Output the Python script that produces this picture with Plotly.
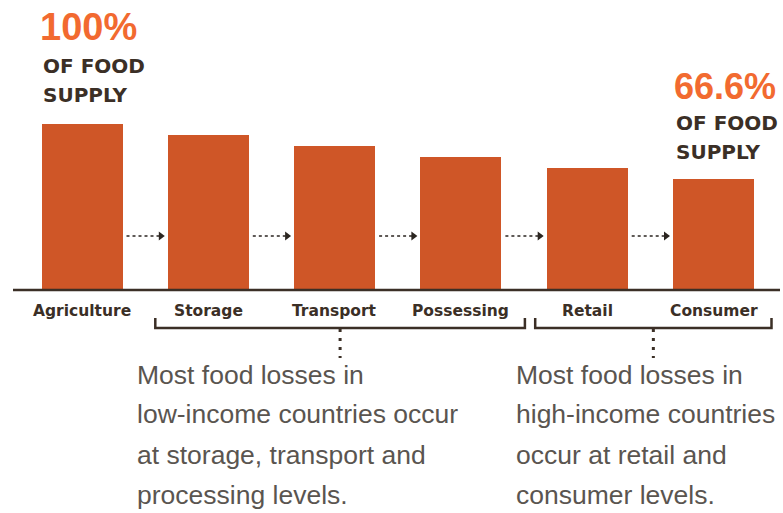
import plotly.graph_objects as go

# ---- data ----
stages = ["Agriculture", "Storage", "Transport", "Possessing", "Retail", "Consumer"]
food_supply = [100, 93.3, 86.6, 80, 73.3, 66.6]
start_label = "100%"
end_label = "66.6%"
sub_label = ["OF FOOD", "SUPPLY"]
low_income_note = ["Most food losses in", "low-income countries occur",
                   "at storage, transport and", "processing levels."]
high_income_note = ["Most food losses in", "high-income countries",
                    "occur at retail and", "consumer levels."]

# ---- geometry helpers (pixel -> data) ----
W, H = 783, 513
X0, DX = 82.0, 126.3       # pixel of category 0, pixels per category
Y0, PPU = 290.0, 1.66      # baseline pixel, pixels per unit


def xd(px):
    return (px - X0) / DX


def yd(py):
    return (Y0 - py) / PPU


BAR = "#cf5627"
ORANGE = "#f26a30"
DARK = "#3b2f26"
GRAY = "#5a5550"
bar_w = 81 / DX
xs = list(range(len(stages)))

fig = go.Figure()
fig.add_trace(go.Bar(x=xs, y=food_supply, width=bar_w, marker=dict(color=BAR, line=dict(width=0)),
                     showlegend=False, hoverinfo="skip"))

# dashed arrows between bars
ay = yd(236)
for i in range(len(stages) - 1):
    x_start = i + bar_w / 2 + 4 / DX
    x_end = i + 1 - bar_w / 2 - 4 / DX
    fig.add_trace(go.Scatter(x=[x_start, x_end - 4 / DX], y=[ay, ay], mode="lines",
                             line=dict(color="#2b2520", width=1.5, dash="3px,3px"),
                             showlegend=False, hoverinfo="skip"))
    fig.add_trace(go.Scatter(x=[x_end - 3 / DX], y=[ay], mode="markers",
                             marker=dict(symbol="triangle-right", size=8, color="#2b2520"),
                             showlegend=False, hoverinfo="skip"))

shapes = []
# baseline
shapes.append(dict(type="line", xref="x", yref="y", x0=xd(13), x1=xd(780), y0=0, y1=0,
                   line=dict(color=DARK, width=2.5)))


def bracket(first, last, left_off, right_off):
    xl = first + left_off / DX
    xr = last + right_off / DX
    yb, yt = yd(328), yd(318)
    shapes.append(dict(type="path", xref="x", yref="y",
                       path=f"M {xl},{yt} L {xl},{yb} L {xr},{yb} L {xr},{yt}",
                       line=dict(color=DARK, width=2.5)))
    xm = (xl + xr) / 2
    shapes.append(dict(type="line", xref="x", yref="y", x0=xm, x1=xm, y0=yd(329), y1=yd(358),
                       line=dict(color=DARK, width=3, dash="3px,6px")))


bracket(1, 3, -53, 64)
bracket(4, 5, -52, 58)

annotations = []
# category labels
for i, s in enumerate(stages):
    annotations.append(dict(x=i, y=yd(311), xref="x", yref="y", text=s, showarrow=False,
                            xanchor="center", yanchor="middle",
                            font=dict(family="DejaVu Sans", size=15.5, color=DARK, weight="bold")))

# headline numbers
annotations.append(dict(x=xd(38), y=yd(27), xref="x", yref="y", text=start_label, showarrow=False,
                        xanchor="left", yanchor="middle",
                        font=dict(family="Liberation Sans", size=38, color=ORANGE, weight="bold")))
annotations.append(dict(x=xd(672), y=yd(86), xref="x", yref="y", text=end_label, showarrow=False,
                        xanchor="left", yanchor="middle",
                        font=dict(family="Liberation Sans", size=36, color=ORANGE, weight="bold")))
for j, t in enumerate(sub_label):
    annotations.append(dict(x=xd(41), y=yd(66 + 29 * j), xref="x", yref="y", text=t, showarrow=False,
                            xanchor="left", yanchor="middle",
                            font=dict(family="DejaVu Sans", size=20, color=DARK, weight="bold")))
    annotations.append(dict(x=xd(674), y=yd(123 + 29 * j), xref="x", yref="y", text=t, showarrow=False,
                            xanchor="left", yanchor="middle",
                            font=dict(family="DejaVu Sans", size=20, color=DARK, weight="bold")))

# notes
line_y = [375, 414, 455, 495]
for j, t in enumerate(low_income_note):
    annotations.append(dict(x=xd(135), y=yd(line_y[j]), xref="x", yref="y", text=t, showarrow=False,
                            xanchor="left", yanchor="middle",
                            font=dict(family="Liberation Sans", size=26.5, color=GRAY)))
for j, t in enumerate(high_income_note):
    annotations.append(dict(x=xd(514), y=yd(line_y[j]), xref="x", yref="y", text=t, showarrow=False,
                            xanchor="left", yanchor="middle",
                            font=dict(family="Liberation Sans", size=26.5, color=GRAY)))

fig.update_layout(
    width=W, height=H,
    margin=dict(l=0, r=0, t=0, b=0),
    paper_bgcolor="white", plot_bgcolor="white",
    xaxis=dict(range=[xd(0), xd(W)], visible=False, fixedrange=True),
    yaxis=dict(range=[yd(H), yd(0)], visible=False, fixedrange=True),
    shapes=shapes, annotations=annotations, bargap=0,
)
fig.write_html("out.html")
